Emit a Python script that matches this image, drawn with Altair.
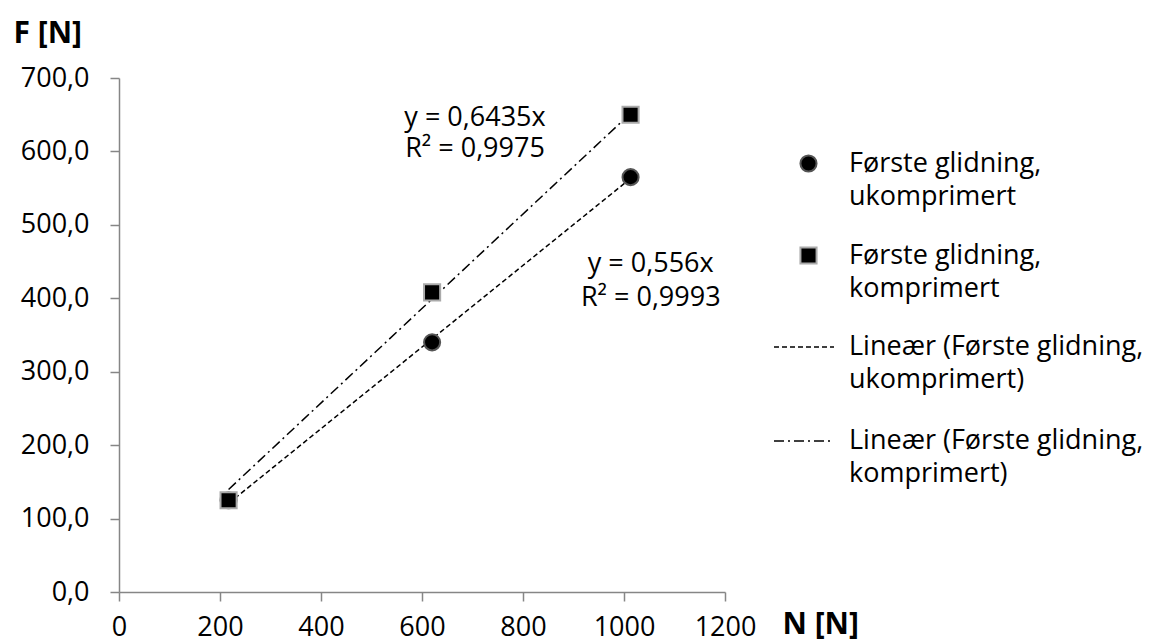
import altair as alt
import pandas as pd

# ---- data ----
n_values = [217, 620, 1013]
f_ukomprimert = [125, 340, 565]
f_komprimert = [125, 408, 650]
slopes = [0.556, 0.6435]
point_series = ["Første glidning,|ukomprimert", "Første glidning,|komprimert"]
line_series = ["Lineær (Første glidning,|ukomprimert)", "Lineær (Første glidning,|komprimert)"]
eq_texts = ["y = 0,556x", "R² = 0,9993", "y = 0,6435x", "R² = 0,9975"]
eq_x = [1053, 1053, 705, 705]
eq_y = [447, 401, 645, 603]
x_ticks = [0, 200, 400, 600, 800, 1000, 1200]
y_ticks = [0, 100, 200, 300, 400, 500, 600, 700]

FONT = "Open Sans"
GRAY = "#868686"
FS = 27

pts = pd.DataFrame(
    [{"N": n, "F": f, "serie": point_series[0]} for n, f in zip(n_values, f_ukomprimert)]
    + [{"N": n, "F": f, "serie": point_series[1]} for n, f in zip(n_values, f_komprimert)]
)
lines = pd.DataFrame(
    [{"N": x, "F": s * x, "trend": name, "order": i}
     for name, s in zip(line_series, slopes)
     for i, x in enumerate([min(n_values), max(n_values)])]
)
eqs = pd.DataFrame({"txt": eq_texts, "N": eq_x, "F": eq_y})

xscale = alt.Scale(domain=[0, 1200], nice=False, zero=True)
yscale = alt.Scale(domain=[0, 700], nice=False, zero=True)

xaxis = alt.Axis(
    values=x_ticks, format="d", grid=False, labelFontSize=FS, labelFont=FONT,
    labelColor="black", tickSize=9, tickColor=GRAY, tickWidth=1.5, domainColor=GRAY,
    domainWidth=1.5, labelPadding=13, title="N [N]", titleAngle=0, titleX=663,
    titleY=32, titleAlign="left", titleBaseline="middle", titleFontSize=30,
    titleFont=FONT, titleFontWeight="bold", titleColor="black",
    labelFlush=False, labelOverlap=False,
)
yaxis = alt.Axis(
    values=y_ticks, grid=False, labelFontSize=FS, labelFont=FONT, labelColor="black",
    tickSize=9, tickColor=GRAY, tickWidth=1.5, domainColor=GRAY, domainWidth=1.5,
    labelPadding=21, labelExpr="replace(format(datum.value, '.1f'), '.', ',')",
    title="F [N]", titleAngle=0, titleX=-106, titleY=-45, titleAlign="left",
    titleBaseline="middle", titleFontSize=30, titleFont=FONT, titleFontWeight="bold",
    titleColor="black", labelFlush=False, labelOverlap=False,
)

trend = alt.Chart(lines).mark_line(color="black", strokeWidth=1.5).encode(
    x=alt.X("N:Q", scale=xscale, axis=xaxis),
    y=alt.Y("F:Q", scale=yscale, axis=yaxis),
    order="order:Q",
    strokeDash=alt.StrokeDash(
        "trend:N",
        scale=alt.Scale(domain=line_series, range=[[5, 3], [10, 4, 2, 4]]),
        legend=alt.Legend(
            title=None, orient="none", legendX=654, legendY=238,
            labelExpr="split(datum.label, '|')", labelFont=FONT, labelFontSize=FS,
            labelLimit=0, symbolType="stroke", symbolStrokeWidth=1.5,
            symbolStrokeColor="black", symbolSize=3600, labelOffset=14,
            rowPadding=17, padding=0,
        ),
    ),
)

points = alt.Chart(pts).mark_point(
    filled=True, fill="black", size=260, strokeWidth=2, opacity=1
).encode(
    x=alt.X("N:Q", scale=xscale),
    y=alt.Y("F:Q", scale=yscale),
    shape=alt.Shape(
        "serie:N",
        scale=alt.Scale(domain=point_series, range=["circle", "square"]),
        legend=alt.Legend(
            title=None, orient="none", legendX=676, legendY=72,
            labelExpr="split(datum.label, '|')", labelFont=FONT, labelFontSize=FS,
            labelLimit=0, symbolSize=260, symbolFillColor="black",
            symbolStrokeWidth=2, labelOffset=27, rowPadding=31, padding=0,
        ),
    ),
    stroke=alt.Stroke(
        "serie:N",
        scale=alt.Scale(domain=point_series, range=["#555555", "#aaaaaa"]),
    ),
)

texts = alt.Chart(eqs).mark_text(
    font=FONT, fontSize=FS, color="black", align="center", baseline="middle"
).encode(
    x=alt.X("N:Q", scale=xscale),
    y=alt.Y("F:Q", scale=yscale),
    text="txt:N",
)

chart = (
    alt.layer(trend, points, texts)
    .properties(
        width=606, height=514,
        autosize=alt.AutoSizeParams(type="none"),
        padding={"left": 111, "top": 70, "right": 426, "bottom": 52},
        background="white",
    )
    .configure(
        view=alt.ViewConfig(stroke=None),
        style={"guide-label": {"lineHeight": 33}},
    )
)

chart.save("out.html", embed_options={"renderer": "svg", "actions": False})
